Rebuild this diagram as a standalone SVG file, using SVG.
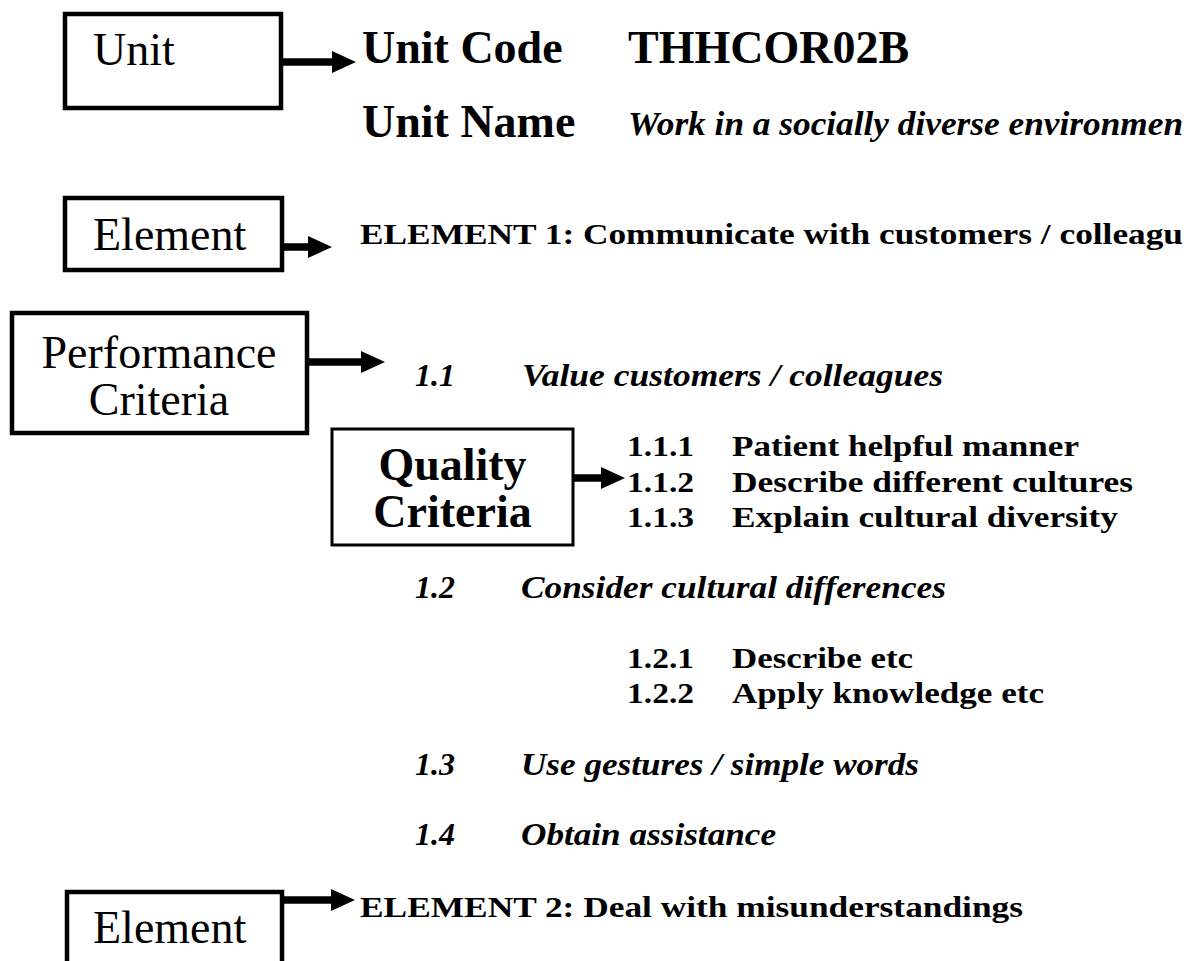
<svg xmlns="http://www.w3.org/2000/svg" width="1196" height="961" viewBox="0 0 1196 961">
<style>
.box{fill:#fff;stroke:#000;stroke-width:4.5}
.qbox{fill:#fff;stroke:#000;stroke-width:3}
.lbl{font-family:"Liberation Serif","Times New Roman",serif;font-size:46px;fill:#000}
.qlbl{font-family:"Liberation Serif","Times New Roman",serif;font-size:46px;font-weight:bold;fill:#000}
.head{font-family:"Liberation Serif","Times New Roman",serif;font-size:46px;font-weight:bold;fill:#000}
.bi{font-family:"Liberation Serif","Times New Roman",serif;font-weight:bold;font-style:italic;fill:#000}
.b{font-family:"Liberation Serif","Times New Roman",serif;font-weight:bold;fill:#000}
.conn{stroke:#000;stroke-width:7.5;fill:none;marker-end:url(#ah)}
</style>
<defs>
<marker id="ah" markerUnits="userSpaceOnUse" markerWidth="26" markerHeight="24" refX="2" refY="11" orient="auto">
<path d="M0,0 L24,11 L0,22 Z" fill="#000"/>
</marker>
</defs>
<rect width="1196" height="961" fill="#fff"/>

<g id="node-unit">
<rect class="box" x="65" y="14" width="216" height="94"/>
<text class="lbl" x="93" y="65">Unit</text>
</g>
<g id="node-element1">
<rect class="box" x="65" y="198" width="217" height="72"/>
<text class="lbl" x="93" y="250">Element</text>
</g>
<g id="node-performance">
<rect class="box" x="12" y="313" width="295" height="120"/>
<text class="lbl" x="159" y="368" text-anchor="middle">Performance</text>
<text class="lbl" x="159" y="415" text-anchor="middle">Criteria</text>
</g>
<g id="node-quality">
<rect class="qbox" x="332" y="429" width="241" height="116"/>
<text class="qlbl" x="452.5" y="480" text-anchor="middle">Quality</text>
<text class="qlbl" x="452.5" y="527" text-anchor="middle">Criteria</text>
</g>
<g id="node-element2">
<rect class="box" x="67" y="892" width="215" height="80"/>
<text class="lbl" x="93" y="943">Element</text>
</g>

<g id="connectors">
<line class="conn" x1="281" y1="62" x2="334" y2="62"/>
<line class="conn" x1="282" y1="247" x2="310" y2="247"/>
<line class="conn" x1="307" y1="362" x2="363" y2="362"/>
<line class="conn" x1="573" y1="478" x2="603" y2="478"/>
<line class="conn" x1="282" y1="900" x2="333" y2="900"/>
</g>

<g id="unit-info">
<text class="head" x="362" y="63">Unit Code</text>
<text class="head" x="628" y="63">THHCOR02B</text>
<text class="head" x="362" y="137">Unit Name</text>
<text class="bi" x="628" y="135" font-size="33" textLength="555" lengthAdjust="spacingAndGlyphs">Work in a socially diverse environmen</text>
</g>

<g id="element1-text">
<text class="b" x="360" y="244" font-size="30" textLength="823" lengthAdjust="spacingAndGlyphs">ELEMENT 1: Communicate with customers / colleagu</text>
</g>

<g id="pc-items">
<text class="bi" x="415" y="386" font-size="31" textLength="40" lengthAdjust="spacingAndGlyphs">1.1</text>
<text class="bi" x="522" y="386" font-size="31" textLength="421" lengthAdjust="spacingAndGlyphs">Value customers / colleagues</text>
<text class="bi" x="415" y="598" font-size="31" textLength="40" lengthAdjust="spacingAndGlyphs">1.2</text>
<text class="bi" x="521" y="598" font-size="31" textLength="425" lengthAdjust="spacingAndGlyphs">Consider cultural differences</text>
<text class="bi" x="415" y="775" font-size="31" textLength="40" lengthAdjust="spacingAndGlyphs">1.3</text>
<text class="bi" x="521" y="775" font-size="31" textLength="398" lengthAdjust="spacingAndGlyphs">Use gestures / simple words</text>
<text class="bi" x="415" y="845" font-size="31" textLength="40" lengthAdjust="spacingAndGlyphs">1.4</text>
<text class="bi" x="521" y="845" font-size="31" textLength="255" lengthAdjust="spacingAndGlyphs">Obtain assistance</text>
</g>

<g id="qc-items">
<text class="b" x="627" y="456" font-size="30" textLength="67" lengthAdjust="spacingAndGlyphs">1.1.1</text>
<text class="b" x="732" y="456" font-size="30" textLength="347" lengthAdjust="spacingAndGlyphs">Patient helpful manner</text>
<text class="b" x="627" y="492" font-size="30" textLength="67" lengthAdjust="spacingAndGlyphs">1.1.2</text>
<text class="b" x="732" y="492" font-size="30" textLength="401" lengthAdjust="spacingAndGlyphs">Describe different cultures</text>
<text class="b" x="627" y="527" font-size="30" textLength="67" lengthAdjust="spacingAndGlyphs">1.1.3</text>
<text class="b" x="732" y="527" font-size="30" textLength="386" lengthAdjust="spacingAndGlyphs">Explain cultural diversity</text>
<text class="b" x="627" y="668" font-size="30" textLength="67" lengthAdjust="spacingAndGlyphs">1.2.1</text>
<text class="b" x="732" y="668" font-size="30" textLength="181" lengthAdjust="spacingAndGlyphs">Describe etc</text>
<text class="b" x="627" y="703" font-size="30" textLength="67" lengthAdjust="spacingAndGlyphs">1.2.2</text>
<text class="b" x="732" y="703" font-size="30" textLength="312" lengthAdjust="spacingAndGlyphs">Apply knowledge etc</text>
</g>

<g id="element2-text">
<text class="b" x="360" y="917" font-size="30" textLength="663" lengthAdjust="spacingAndGlyphs">ELEMENT 2: Deal with misunderstandings</text>
</g>
</svg>
